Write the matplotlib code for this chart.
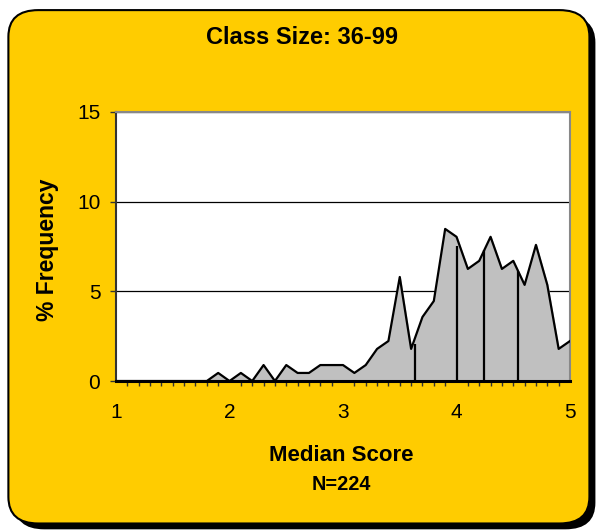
import matplotlib.pyplot as plt
from matplotlib.patches import FancyBboxPatch

plt.rcParams['font.family'] = ['Liberation Sans', 'DejaVu Sans']

# median score bins (0.1 steps) and % frequency, N=224
scores = [1.0, 1.1, 1.2, 1.3, 1.4, 1.5, 1.6, 1.7, 1.8, 1.9,
          2.0, 2.1, 2.2, 2.3, 2.4, 2.5, 2.6, 2.7, 2.8, 2.9,
          3.0, 3.1, 3.2, 3.3, 3.4, 3.5, 3.6, 3.7, 3.8, 3.9,
          4.0, 4.1, 4.2, 4.3, 4.4, 4.5, 4.6, 4.7, 4.8, 4.9, 5.0]
freq = [0, 0, 0, 0, 0, 0, 0, 0, 0, 0.45,
        0, 0.45, 0, 0.89, 0, 0.89, 0.45, 0.45, 0.89, 0.89,
        0.89, 0.45, 0.89, 1.79, 2.23, 5.80, 1.79, 3.57, 4.46, 8.48,
        8.04, 6.25, 6.70, 8.04, 6.25, 6.70, 5.36, 7.59, 5.36, 1.79, 2.23]

# stray vertical edges visible in the original area chart
edge_x = [3.63, 4.0, 4.24, 4.545]
edge_y = [2.04, 7.53, 7.29, 6.13]

yellow = '#FFCC00'

fig = plt.figure(figsize=(5.99, 5.32), dpi=100)
fig.patch.set_facecolor('white')

# shadow + rounded yellow panel
shadow = FancyBboxPatch((0.024, 0.005), 0.97, 0.965, boxstyle='round,pad=0,rounding_size=0.05',
                        transform=fig.transFigure, facecolor='black', edgecolor='none', zorder=0)
panel = FancyBboxPatch((0.014, 0.016), 0.97, 0.965, boxstyle='round,pad=0,rounding_size=0.05',
                       transform=fig.transFigure, facecolor=yellow, edgecolor='black',
                       linewidth=1.5, zorder=1)
fig.patches.extend([shadow, panel])

ax = fig.add_axes([0.1937, 0.2838, 0.7579, 0.5057])
ax.set_zorder(5)
ax.set_facecolor('white')
ax.fill_between(scores, freq, 0, color='#C0C0C0', zorder=2)
ax.plot(scores, freq, color='black', linewidth=1.6, zorder=3)
ax.vlines(edge_x, 0, edge_y, color='black', linewidth=1.6, zorder=3)

ax.set_xlim(1, 5)
ax.set_ylim(0, 15)
ax.set_yticks([0, 5, 10, 15])
ax.set_xticks([1, 2, 3, 4, 5])
ax.set_xticks(scores, minor=True)
ax.yaxis.grid(True, color='black', linewidth=0.9)
ax.set_axisbelow(True)

ax.tick_params(axis='y', direction='out', length=4.3, width=1, color='#333333',
               labelsize=15, pad=7)
ax.tick_params(axis='x', which='major', length=0, labelsize=15, pad=16)
ax.tick_params(axis='x', which='minor', direction='out', length=3.6, width=1, color='#333333')

for s in ['top', 'right']:
    ax.spines[s].set_color('#888888')
    ax.spines[s].set_linewidth(1.5)
ax.spines['left'].set_color('#333333')
ax.spines['left'].set_linewidth(1.5)
ax.spines['bottom'].set_color('black')
ax.spines['bottom'].set_linewidth(2.2)

fig.text(0.505, 0.929, 'Class Size: 36-99', ha='center', va='center',
         fontsize=17, fontweight='bold')
fig.text(0.08, 0.53, '% Frequency', ha='center', va='center', rotation=90,
         fontsize=16.5, fontweight='bold')
fig.text(0.57, 0.143, 'Median Score', ha='center', va='center',
         fontsize=16, fontweight='bold')
fig.text(0.57, 0.09, 'N=224', ha='center', va='center',
         fontsize=14.3, fontweight='bold')

fig.savefig('out.png', dpi=100, facecolor=fig.get_facecolor())
